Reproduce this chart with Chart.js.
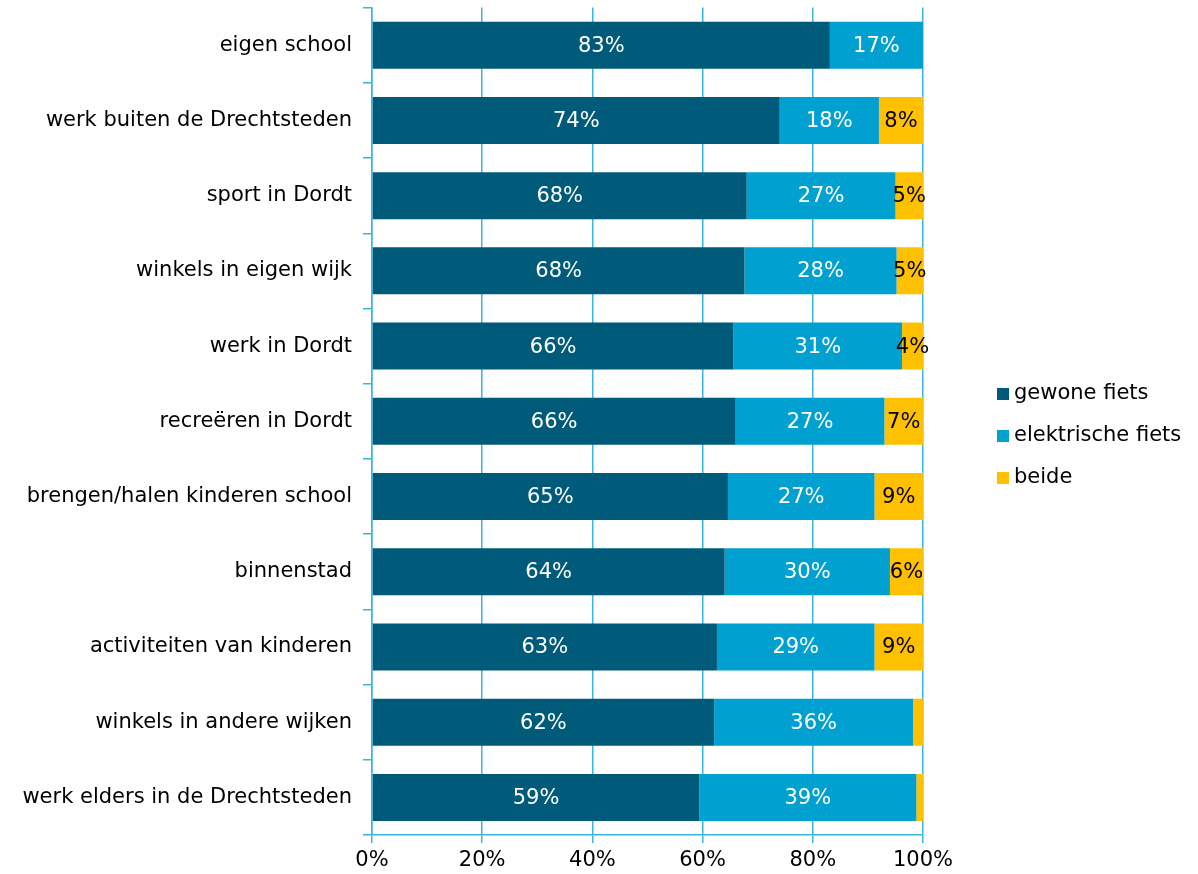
<!DOCTYPE html>
<html>
<head>
<meta charset="utf-8">
<script src="https://cdn.jsdelivr.net/npm/chart.js@4/dist/chart.umd.min.js"></script>
<style>
  html, body { margin: 0; padding: 0; background: #fff; }
  #wrap { width: 1198px; height: 874px; overflow: hidden; }
  #barChart { display: block; margin-top: -16px; }
</style>
</head>
<body>
<div id="wrap"><canvas id="barChart" width="1198" height="890"></canvas></div>
<script>
// categories and shares (%)
const categories = [
  'eigen school',
  'werk buiten de Drechtsteden',
  'sport in Dordt',
  'winkels in eigen wijk',
  'werk in Dordt',
  'recreëren in Dordt',
  'brengen/halen kinderen school',
  'binnenstad',
  'activiteiten van kinderen',
  'winkels in andere wijken',
  'werk elders in de Drechtsteden'
];
const gewoneFiets     = [83.1, 74.0, 68.0, 67.6, 65.6, 66.0, 64.6, 64.0, 62.6, 62.1, 59.4];
const elektrischeFiets = [16.9, 18.0, 27.0, 27.6, 30.6, 27.0, 26.6, 30.0, 28.6, 36.1, 39.4];
const beide           = [0.0, 8.0, 5.0, 4.8, 3.8, 7.0, 8.8, 6.0, 8.8, 1.8, 1.2];
const seriesNames = ['gewone fiets', 'elektrische fiets', 'beide'];
const xTicks = [0, 20, 40, 60, 80, 100];

const colors = ['#005b7b', '#00a0d0', '#ffc000'];
const labelColors = ['#ffffff', '#ffffff', '#000000'];
const gridColor = '#3ab6e3';
const font = 'DejaVu Sans, Verdana, sans-serif';
const fontSize = 21;

// value labels inside the bars
const barLabels = {
  id: 'barLabels',
  afterDatasetsDraw(chart) {
    const ctx = chart.ctx;
    ctx.save();
    ctx.font = fontSize + 'px ' + font;
    ctx.textAlign = 'center';
    ctx.textBaseline = 'middle';
    chart.data.datasets.forEach((ds, i) => {
      const meta = chart.getDatasetMeta(i);
      meta.data.forEach((bar, j) => {
        const v = ds.data[j];
        if (v < 3) return;
        const x = (bar.x + bar.base) / 2;
        ctx.fillStyle = labelColors[i];
        ctx.fillText(Math.round(v) + '%', x, bar.y + 1);
      });
    });
    ctx.restore();
  }
};

// legend to the right of the plot (canvas is shifted up 16px)
const sideLegend = {
  id: 'sideLegend',
  afterDraw(chart) {
    const ctx = chart.ctx;
    ctx.save();
    ctx.font = fontSize + 'px ' + font;
    ctx.textBaseline = 'middle';
    seriesNames.forEach((name, i) => {
      const y = 16 + 394 + i * 42;
      ctx.fillStyle = colors[i];
      ctx.fillRect(997, y - 6, 12, 12);
      ctx.fillStyle = '#000';
      ctx.fillText(name, 1014, y);
    });
    ctx.restore();
  }
};

new Chart(document.getElementById('barChart').getContext('2d'), {
  type: 'bar',
  data: {
    labels: categories,
    datasets: [gewoneFiets, elektrischeFiets, beide].map((d, i) => ({
      label: seriesNames[i],
      data: d,
      backgroundColor: colors[i],
      borderWidth: 0,
      barPercentage: 0.625,
      categoryPercentage: 1
    }))
  },
  options: {
    indexAxis: 'y',
    responsive: false,
    animation: false,
    layout: { padding: { top: 0, right: 275, left: 0, bottom: 0 } },
    plugins: { legend: { display: false }, tooltip: { enabled: false } },
    scales: {
      x: {
        stacked: true,
        min: 0,
        max: 100,
        afterBuildTicks(s) { s.ticks = xTicks.map(v => ({ value: v })); },
        afterFit(s) { s.height = 39; },
        border: { color: gridColor, width: 1.5 },
        grid: { color: gridColor, lineWidth: 1.5, tickLength: 8 },
        ticks: {
          color: '#000',
          font: { family: font, size: fontSize },
          padding: 5,
          callback: v => v + '%'
        }
      },
      y: {
        stacked: true,
        afterFit(s) { s.width = 372; },
        border: { color: gridColor, width: 1.5 },
        grid: { offset: true, drawOnChartArea: false, color: gridColor, lineWidth: 1.5, tickLength: 9 },
        ticks: {
          color: '#000',
          font: { family: font, size: fontSize },
          padding: 11
        }
      }
    }
  },
  plugins: [barLabels, sideLegend]
});
</script>
</body>
</html>
